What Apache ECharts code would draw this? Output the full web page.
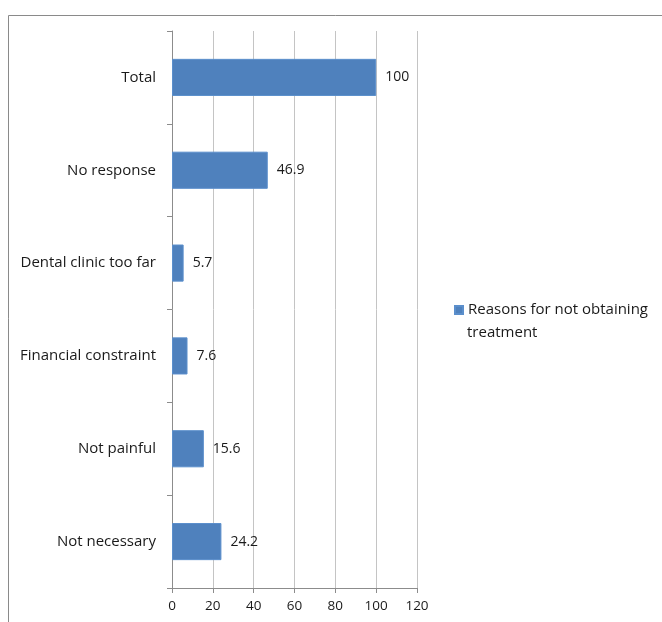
<!DOCTYPE html>
<html>
<head>
<meta charset="utf-8">
<style>
  html, body { margin: 0; padding: 0; background: #ffffff; }
  #chart { width: 662px; height: 622px; }
</style>
<script src="https://cdn.jsdelivr.net/npm/echarts@6/dist/echarts.min.js"></script>
</head>
<body>
<div id="chart"></div>
<script>
// Reasons for not obtaining treatment (%), listed bottom to top
const categories = ['Not necessary', 'Not painful', 'Financial constraint', 'Dental clinic too far', 'No response', 'Total'];
const percentValues = [24.2, 15.6, 7.6, 5.7, 46.9, 100];
const seriesName = 'Reasons for not obtaining treatment';
const legendLines = ['Reasons for not obtaining', 'treatment'];
const xTicks = [0, 20, 40, 60, 80, 100, 120];

const FONT = '"Open Sans", sans-serif';
const TEXT_COLOR = '#1a1a1a';
const chart = echarts.init(document.getElementById('chart'), null, { renderer: 'canvas' });

chart.setOption({
  backgroundColor: '#ffffff',
  animation: false,
  textStyle: { fontFamily: FONT },
  grid: { left: 172, top: 31, width: 245, height: 557, containLabel: false },
  legend: {
    data: [seriesName],
    left: 454,
    top: 300,
    padding: 0,
    icon: 'rect',
    itemWidth: 8,
    itemHeight: 8,
    itemGap: 5,
    formatter: function () { return legendLines[0]; },
    textStyle: { fontFamily: FONT, fontSize: 15, color: TEXT_COLOR, lineHeight: 20 }
  },
  xAxis: {
    type: 'value',
    min: xTicks[0],
    max: xTicks[xTicks.length - 1],
    interval: xTicks[1] - xTicks[0],
    axisLine: { show: true, lineStyle: { color: '#8c8c8c', width: 1 } },
    axisTick: { show: true, length: 5, lineStyle: { color: '#8c8c8c' } },
    axisLabel: { fontFamily: FONT, fontSize: 13.5, color: TEXT_COLOR, margin: 11 },
    splitLine: { show: true, lineStyle: { color: '#c4c4c4', width: 1 } }
  },
  yAxis: {
    type: 'category',
    data: categories,
    axisLine: { show: true, lineStyle: { color: '#8c8c8c', width: 1 } },
    axisTick: { show: true, length: 5, alignWithLabel: false, lineStyle: { color: '#8c8c8c' } },
    axisLabel: { fontFamily: FONT, fontSize: 15, color: TEXT_COLOR, margin: 16 },
    splitLine: { show: false }
  },
  series: [{
    name: seriesName,
    type: 'bar',
    data: percentValues,
    barCategoryGap: '60%',
    itemStyle: { color: '#4f81bd', borderColor: '#5b8fcc', borderWidth: 1 },
    label: {
      show: true,
      position: 'right',
      distance: 9,
      fontFamily: FONT,
      fontSize: 14,
      color: TEXT_COLOR
    }
  }],
  graphic: [
    // outer frame (left and top edges)
    { type: 'line', shape: { x1: 8.5, y1: 15.5, x2: 8.5, y2: 622 }, style: { stroke: '#8a8a8a', lineWidth: 1 } },
    { type: 'line', shape: { x1: 8.5, y1: 15.5, x2: 662, y2: 15.5 }, style: { stroke: '#8a8a8a', lineWidth: 1 } },
    // wrapped second line of the legend entry
    {
      type: 'text',
      left: 467,
      top: 325,
      style: { text: legendLines[1], font: '15px "Open Sans", sans-serif', fill: TEXT_COLOR }
    }
  ]
});
</script>
</body>
</html>
